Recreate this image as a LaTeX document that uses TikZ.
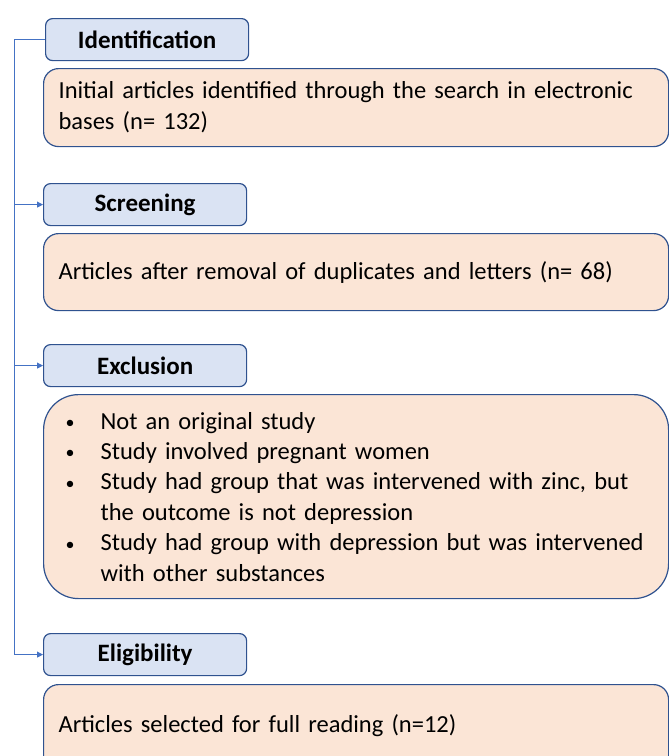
\documentclass[tikz,border=0pt]{standalone}
\usepackage{fontspec}
\setmainfont{Carlito}
\usetikzlibrary{arrows.meta}
\definecolor{hdrfill}{HTML}{DAE3F3}
\definecolor{hdrdraw}{HTML}{2F528F}
\definecolor{boxfill}{HTML}{FBE5D6}
\definecolor{conncol}{HTML}{4472C4}
\newcommand{\critem}[1]{\hspace*{11pt}\makebox[35pt][l]{\fontsize{18}{18}\selectfont\raisebox{0.5pt}{•}}#1\par}
\newcommand{\crcont}[1]{\hspace*{46pt}#1\par}
\tikzset{
  hdr/.style={draw=hdrdraw, fill=hdrfill, line width=1.2pt, rounded corners=7pt, anchor=north west,
    minimum width=203pt, minimum height=42pt, inner sep=0pt, font=\fontsize{25}{29}\selectfont\bfseries},
  body/.style={draw=hdrdraw, fill=boxfill, line width=1.2pt, rounded corners=15pt, anchor=north west,
    minimum width=625pt, text width=595pt, inner xsep=15pt, inner ysep=0pt, align=left,
    font=\fontsize{24.5}{31}\selectfont},
  conn/.style={draw=conncol, line width=0.9pt},
  arr/.style={conn, -{Triangle[length=6pt,width=6pt]}}
}
\begin{document}
\begin{tikzpicture}[x=1pt,y=-1pt]
\useasboundingbox (0,0) rectangle (669,756);
\clip (0,0) rectangle (669,756);
\coordinate (spine) at (14,0);
\node[hdr] (ident) at (45,18) {Identification};
\node[body, minimum height=78pt] (initial) at (43,68) {\raisebox{-3pt}{Initial articles identified through the search in electronic}\\\raisebox{-3pt}{bases (n= 132)}};
\node[hdr] (screen) at (43,183) {Screening};
\node[body, minimum height=77pt] (dedup) at (43,233) {Articles after removal of duplicates and letters (n= 68)};
\node[hdr] (excl) at (43,344) {Exclusion};
\node[body, minimum height=204pt, rounded corners=35pt, text width=603pt, inner xsep=11pt, font=\fontsize{24.5}{30.4}\selectfont] (crit) at (43,394) {%
\critem{Not an original study}
\critem{Study involved pregnant women}
\critem{Study had group that was intervened with zinc, but}
\crcont{the outcome is not depression}
\critem{Study had group with depression but was intervened}
\crcont{with other substances}};
\node[hdr] (elig) at (43,633) {Eligibility};
\node[body, minimum height=90pt] (full) at (43,684) {\raisebox{12pt}{Articles selected for full reading (n=12)}};
\draw[conn] (ident.west) -| (spine |- elig.west);
\draw[arr] (spine |- screen.west) -- (screen.west);
\draw[arr] (spine |- excl.west) -- (excl.west);
\draw[arr] (spine |- elig.west) -- (elig.west);
\end{tikzpicture}
\end{document}
